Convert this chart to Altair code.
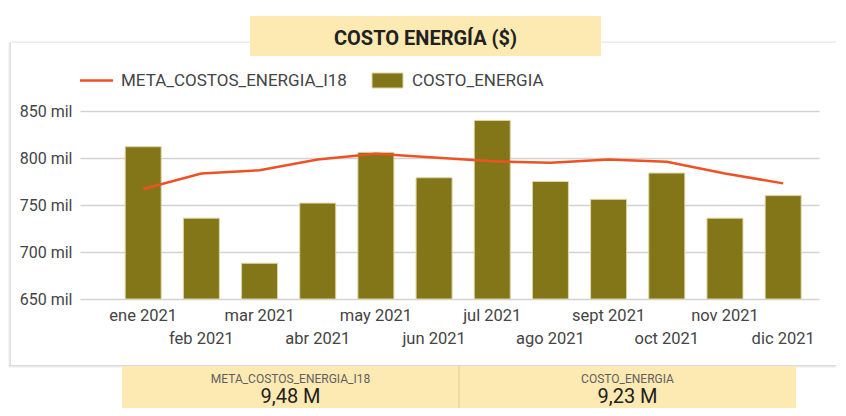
import altair as alt
import pandas as pd

# ---------------- data ----------------
meses = ["ene 2021", "feb 2021", "mar 2021", "abr 2021", "may 2021", "jun 2021",
         "jul 2021", "ago 2021", "sept 2021", "oct 2021", "nov 2021", "dic 2021"]
costo_energia = [812, 736, 688, 752, 806, 779, 840, 775, 756, 784, 736, 760]          # miles de $
meta_costos_energia_i18 = [767, 783.5, 787, 798.5, 804.5, 800.5, 796.5, 795, 798.5, 796, 783.5, 773]
series = ["META_COSTOS_ENERGIA_I18", "COSTO_ENERGIA"]
kpi_values = ["9,48 M", "9,23 M"]
y_label_ticks = [650, 700, 750, 800, 850]
y_grid_ticks = [650, 675, 700, 725, 750, 775, 800, 825, 850]
titulo = "COSTO ENERGÍA ($)"

# ---------------- style ----------------
BAR = "#837619"
BAR_STROKE = "#ddd5a6"
LINE = "#ee5224"
YELLOW = "#fde9b2"
TEXT = "#444444"
FONT = "Roboto"

W, H = 830, 400
PAD_L, PAD_T = 72, 103
PW, PH = 739, 188
PAD_R = W - PAD_L - PW
PAD_B = H - PAD_T - PH
X0, Y0 = 8 + PAD_L, 8 + PAD_T
RIGHT_EDGE = 836


def px(x):
    return x - X0


def py(y):
    return y - Y0


df = pd.DataFrame({"idx": list(range(1, len(meses) + 1)), "mes": meses,
                   "costo": costo_energia, "meta": meta_costos_energia_i18})
one = pd.DataFrame({"k": [0]})

xs = alt.Scale(domain=[0, 12.53], nice=False, zero=False)
ys = alt.Scale(domain=[y_label_ticks[0], y_label_ticks[-1]], nice=False, zero=False)

layers = []

# card shadow (card itself is white on white)
for xx, col in [(8.5, "#f5f5f5"), (9.5, "#eaeaea"), (10.5, "#e0e0e0")]:
    layers.append(alt.Chart(one).mark_rule(color=col, strokeWidth=1).encode(
        x=alt.value(px(xx)), y=alt.value(py(42)), y2=alt.value(py(367))))
for yy, col in [(41.5, "#f4f4f4"), (42.5, "#ececec")]:
    layers.append(alt.Chart(one).mark_rule(color=col, strokeWidth=1).encode(
        x=alt.value(px(10)), x2=alt.value(px(RIGHT_EDGE)), y=alt.value(py(yy))))
for yy, col in [(365.5, "#dadada"), (366.5, "#e9e9e9"), (367.5, "#f5f5f5")]:
    layers.append(alt.Chart(one).mark_rule(color=col, strokeWidth=1).encode(
        x=alt.value(px(9)), x2=alt.value(px(RIGHT_EDGE)), y=alt.value(py(yy))))

# title box
layers.append(alt.Chart(one).mark_rect(color=YELLOW).encode(
    x=alt.value(px(250)), x2=alt.value(px(601)), y=alt.value(py(16)), y2=alt.value(py(56))))
layers.append(alt.Chart(pd.DataFrame({"t": [titulo]})).mark_text(
    font=FONT, fontSize=20, fontWeight="bold", color="#212121", baseline="middle", align="center"
).encode(x=alt.value(px(425.5)), y=alt.value(py(39)), text="t:N"))

# legend
layers.append(alt.Chart(one).mark_rule(color=LINE, strokeWidth=2.5).encode(
    x=alt.value(px(80)), x2=alt.value(px(113)), y=alt.value(py(80.5))))
layers.append(alt.Chart(one).mark_rect(color=BAR, stroke=BAR_STROKE, strokeWidth=1).encode(
    x=alt.value(px(372)), x2=alt.value(px(403)), y=alt.value(py(73)), y2=alt.value(py(88))))
for sx, name in zip([121, 412], series):
    layers.append(alt.Chart(pd.DataFrame({"t": [name]})).mark_text(
        font=FONT, fontSize=17, color=TEXT, baseline="middle", align="left"
    ).encode(x=alt.value(px(sx)), y=alt.value(py(80.5)), text="t:N"))

# bars
base = alt.Chart(df)
bars = base.mark_bar(size=36, color=BAR, stroke=BAR_STROKE, strokeWidth=1).encode(
    x=alt.X("idx:Q", scale=xs, axis=None),
    y=alt.Y("costo:Q", scale=ys, axis=alt.Axis(
        values=y_grid_ticks,
        labelExpr="datum.value % 50 == 0 ? datum.value + ' mil' : ''",
        domain=False, ticks=False, grid=True, gridColor="#d2d2d2", gridWidth=1.3,
        labelFont=FONT, labelFontSize=16, labelColor=TEXT, labelPadding=8, title=None)),
    y2=alt.datum(y_label_ticks[0]),
)
layers.append(bars)

line = base.mark_line(color=LINE, strokeWidth=2.5).encode(
    x=alt.X("idx:Q", scale=xs), y=alt.Y("meta:Q", scale=ys))
layers.append(line)

# staggered month labels
for parity, ly in [(1, py(316)), (0, py(338.5))]:
    layers.append(base.transform_filter(f"datum.idx % 2 == {parity}").mark_text(
        font=FONT, fontSize=16.5, color=TEXT, baseline="middle", align="center"
    ).encode(x=alt.X("idx:Q", scale=xs), y=alt.value(ly), text="mes:N"))

# KPI boxes
boxes = [(122, 459), (459, 796)]
for (bx0, bx1), name, val in zip(boxes, series, kpi_values):
    cx = (bx0 + bx1) / 2
    layers.append(alt.Chart(one).mark_rect(color=YELLOW).encode(
        x=alt.value(px(bx0)), x2=alt.value(px(bx1)), y=alt.value(py(366)), y2=alt.value(py(408))))
    layers.append(alt.Chart(pd.DataFrame({"t": [name]})).mark_text(
        font=FONT, fontSize=12, color="#5f5f5f", baseline="middle", align="center"
    ).encode(x=alt.value(px(cx)), y=alt.value(py(378.5)), text="t:N"))
    layers.append(alt.Chart(pd.DataFrame({"t": [val]})).mark_text(
        font=FONT, fontSize=20, color="#212121", baseline="alphabetic", align="center"
    ).encode(x=alt.value(px(cx)), y=alt.value(py(403)), text="t:N"))
layers.append(alt.Chart(one).mark_rule(color="#e9d49c", strokeWidth=1.5).encode(
    x=alt.value(px(459)), y=alt.value(py(366)), y2=alt.value(py(408))))

chart = alt.layer(*layers).properties(
    width=PW, height=PH,
    autosize=alt.AutoSizeParams(type="none"),
    padding={"left": PAD_L, "top": PAD_T, "right": PAD_R, "bottom": PAD_B},
    background="white",
).configure_view(stroke=None)

chart.save("out.html", embed_options={"renderer": "svg", "actions": False})
